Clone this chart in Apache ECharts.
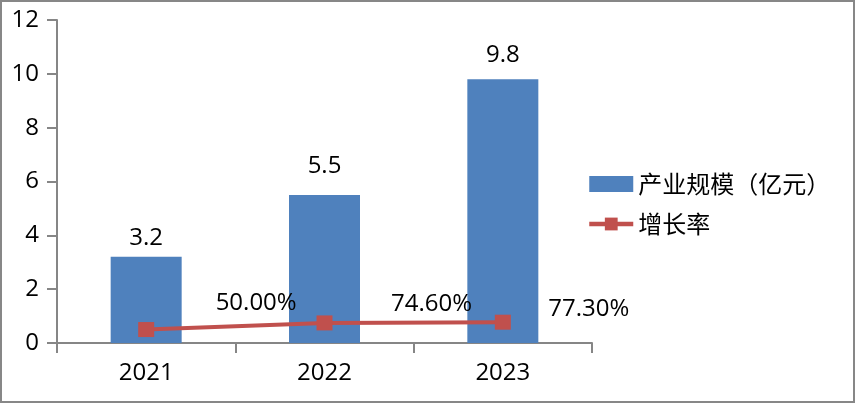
<!DOCTYPE html>
<html><head><meta charset="utf-8">
<script src="https://cdn.jsdelivr.net/npm/echarts@6/dist/echarts.min.js"></script>
<style>
html,body{margin:0;padding:0;background:#fff;}
#wrap{position:relative;width:855px;height:403px;}
#chart{position:absolute;left:0;top:0;width:855px;height:403px;}
#frame{position:absolute;left:0;top:0;width:855px;height:403px;box-sizing:border-box;border:2px solid #878787;pointer-events:none;}
</style></head>
<body><div id="wrap"><div id="chart"></div><div id="frame"></div></div>
<script>
const categories = ['2021', '2022', '2023'];
const scaleValues = [3.2, 5.5, 9.8];
const growthValues = [0.5, 0.746, 0.773];
const growthLabels = ['50.00%', '74.60%', '77.30%'];
const seriesNames = ['产业规模（亿元）', '增长率'];
const yTicks = { min: 0, max: 12, interval: 2 };

// label placement (style only)
const growthLabelOffsets = [[110, -26], [107, -19], [86, -13]];
const barLabelDistances = [7, 17, 12];
const numFont = '"Open Sans", "Noto Sans", sans-serif';
const cjkFont = '"Noto Sans CJK SC", sans-serif';

const chart = echarts.init(document.getElementById('chart'));
chart.setOption({
  animation: false,
  grid: { left: 57, right: 263, top: 20, bottom: 60 },
  legend: {
    orient: 'vertical', left: 582, top: 167, itemWidth: 44, itemHeight: 16, itemGap: 16,
    textStyle: { fontFamily: cjkFont, fontSize: 24, color: '#000' },
    data: [
      { name: seriesNames[0], icon: 'rect' },
      { name: seriesNames[1], lineStyle: { width: 4.5 } }
    ]
  },
  xAxis: {
    type: 'category', data: categories,
    axisLine: { lineStyle: { color: '#868686', width: 2 } },
    axisTick: { show: true, length: 10, lineStyle: { color: '#868686', width: 2 } },
    axisLabel: { fontFamily: numFont, fontSize: 24, color: '#000', margin: 18 }
  },
  yAxis: {
    type: 'value', min: yTicks.min, max: yTicks.max, interval: yTicks.interval,
    axisLine: { show: true, lineStyle: { color: '#868686', width: 2 } },
    axisTick: { show: true, length: 10, lineStyle: { color: '#868686', width: 2 } },
    splitLine: { show: false },
    axisLabel: { fontFamily: numFont, fontSize: 24, color: '#000', margin: 18 }
  },
  series: [
    {
      name: seriesNames[0], type: 'bar', barWidth: 71,
      data: scaleValues.map((v, i) => ({
        value: v,
        label: { distance: barLabelDistances[i] }
      })),
      itemStyle: { color: '#4F81BD' },
      label: { show: true, position: 'top', fontFamily: numFont, fontSize: 24, color: '#000' }
    },
    {
      name: seriesNames[1], type: 'line',
      data: growthValues.map((v, i) => ({
        value: v,
        label: { formatter: growthLabels[i], offset: growthLabelOffsets[i] }
      })),
      symbol: 'rect', symbolSize: [16, 15],
      lineStyle: { color: '#C0504D', width: 4 },
      itemStyle: { color: '#C0504D' },
      label: { show: true, position: 'inside', fontFamily: numFont, fontSize: 24, color: '#000' },
      z: 5
    }
  ]
});
</script></body></html>
